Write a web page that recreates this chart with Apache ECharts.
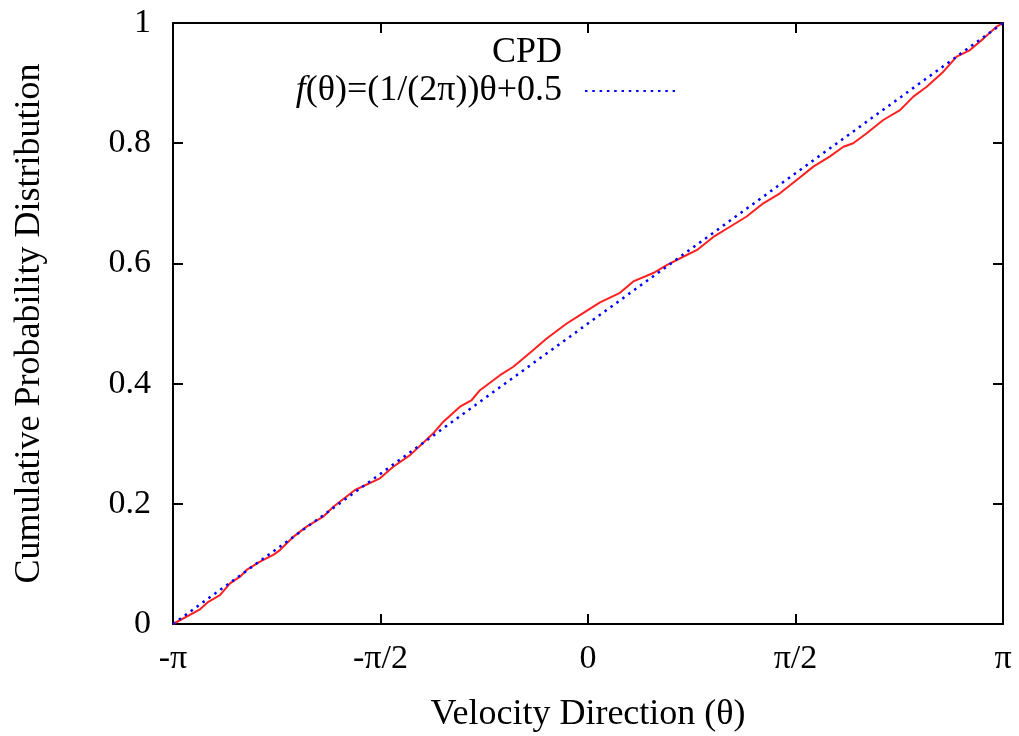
<!DOCTYPE html>
<html>
<head>
<meta charset="utf-8">
<script src="https://cdn.jsdelivr.net/npm/echarts@6/dist/echarts.min.js"></script>
<style>html,body{margin:0;padding:0;background:#fff;}#c{width:1019px;height:736px;}</style>
</head>
<body>
<div id="c"></div>
<script>
// Empirical CPD (theta in radians, cumulative probability)
const cpdTheta = [-3.1416,-2.937,-2.874,-2.786,-2.710,-2.634,-2.584,-2.483,-2.382,-2.332,-2.231,-2.130,-2.004,-1.928,-1.764,-1.575,-1.474,-1.347,-1.171,-1.095,-0.969,-0.880,-0.818,-0.666,-0.565,-0.414,-0.313,-0.161,-0.061,0.091,0.242,0.343,0.494,0.596,0.747,0.823,0.949,1.075,1.201,1.327,1.453,1.580,1.706,1.832,1.933,2.008,2.110,2.235,2.362,2.463,2.564,2.690,2.791,2.892,2.993,3.094,3.1416];
const cpdValue = [0,0.0245,0.037,0.048,0.0677,0.0787,0.0899,0.1037,0.115,0.123,0.145,0.162,0.1785,0.195,0.223,0.2424,0.2617,0.281,0.3173,0.3366,0.3616,0.3727,0.389,0.414,0.428,0.456,0.475,0.500,0.514,0.535,0.551,0.570,0.584,0.597,0.614,0.622,0.644,0.661,0.678,0.700,0.7166,0.7388,0.761,0.778,0.794,0.800,0.8166,0.8386,0.855,0.8775,0.894,0.919,0.944,0.955,0.974,0.994,1];
// Reference line f(theta) endpoints
const refTheta = [-3.1416, 3.1416];
const refValue = [0, 1];
const xTickLabels = ['-π','-π/2','0','π/2','π'];
const yTickLabels = ['0','0.2','0.4','0.6','0.8','1'];
const seriesNames = ['CPD','f(θ)=(1/(2π))θ+0.5'];

const FONT = '"Liberation Serif","DejaVu Serif",serif';
const FS = 34;
const FT = 36;
const PI = Math.PI;

function xLabel(v){ const i = Math.round(v/(PI/2)) + 2; return xTickLabels[i] !== undefined ? xTickLabels[i] : ''; }
function yLabel(v){ const i = Math.round(v/0.2); return yTickLabels[i] !== undefined ? yTickLabels[i] : ''; }

const chart = echarts.init(document.getElementById('c'), null, {renderer:'canvas'});
const axisLine = {show:true, onZero:false, lineStyle:{color:'#000', width:2}};
const tick = {show:true, inside:true, length:10, lineStyle:{color:'#000', width:2}};
chart.setOption({
  animation:false,
  backgroundColor:'#fff',
  grid:{left:173, right:16, top:23, bottom:112, containLabel:false, outerBoundsMode:'none'},
  legend:{
    orient:'vertical', align:'right', right:338, top:30,
    itemWidth:90, itemHeight:14, itemGap:2,
    textStyle:{fontFamily:FONT, fontSize:FT, color:'#000', lineHeight:36, padding:[0,18,0,0],
      rich:{i:{fontFamily:FONT, fontSize:FT, fontStyle:'italic', color:'#000'}}},
    formatter:function(n){ return n===seriesNames[1] ? '{i|f}(θ)=(1/(2π))θ+0.5' : n; },
    data:[
      {name:seriesNames[0], itemStyle:{opacity:0}, lineStyle:{opacity:0}},
      {name:seriesNames[1], itemStyle:{opacity:0}}
    ]
  },
  xAxis:[{
    type:'value', min:-PI, max:PI, interval:PI/2,
    name:'Velocity Direction (θ)', nameLocation:'middle', nameGap:73,
    nameTextStyle:{fontFamily:FONT, fontSize:FT, color:'#000'},
    axisLine:axisLine, axisTick:tick, splitLine:{show:false},
    axisLabel:{fontFamily:FONT, fontSize:FS, color:'#000', margin:18, formatter:xLabel, showMinLabel:true, showMaxLabel:true}
  },{
    type:'value', position:'top', min:-PI, max:PI, interval:PI/2,
    axisLine:axisLine, axisTick:tick, splitLine:{show:false}, axisLabel:{show:false}
  }],
  yAxis:[{
    type:'value', min:0, max:1, interval:0.2,
    name:'Cumulative Probability Distribution', nameLocation:'middle', nameGap:125,
    nameTextStyle:{fontFamily:FONT, fontSize:FT, color:'#000'},
    axisLine:axisLine, axisTick:tick, splitLine:{show:false},
    axisLabel:{fontFamily:FONT, fontSize:FS, color:'#000', margin:22, formatter:yLabel}
  },{
    type:'value', position:'right', min:0, max:1, interval:0.2,
    axisLine:axisLine, axisTick:tick, splitLine:{show:false}, axisLabel:{show:false}
  }],
  series:[{
    name:seriesNames[0], type:'line', symbol:'none', z:2,
    lineStyle:{color:'#ff2020', width:2},
    itemStyle:{color:'#ff2020'},
    data:cpdTheta.map((t,i)=>[t,cpdValue[i]])
  },{
    name:seriesNames[1], type:'line', symbol:'none', z:3,
    lineStyle:{color:'#0000ff', width:2.5, type:[2.5,4.8]},
    itemStyle:{color:'#0000ff'},
    data:refTheta.map((t,i)=>[t,refValue[i]])
  }]
});
</script>
</body>
</html>
